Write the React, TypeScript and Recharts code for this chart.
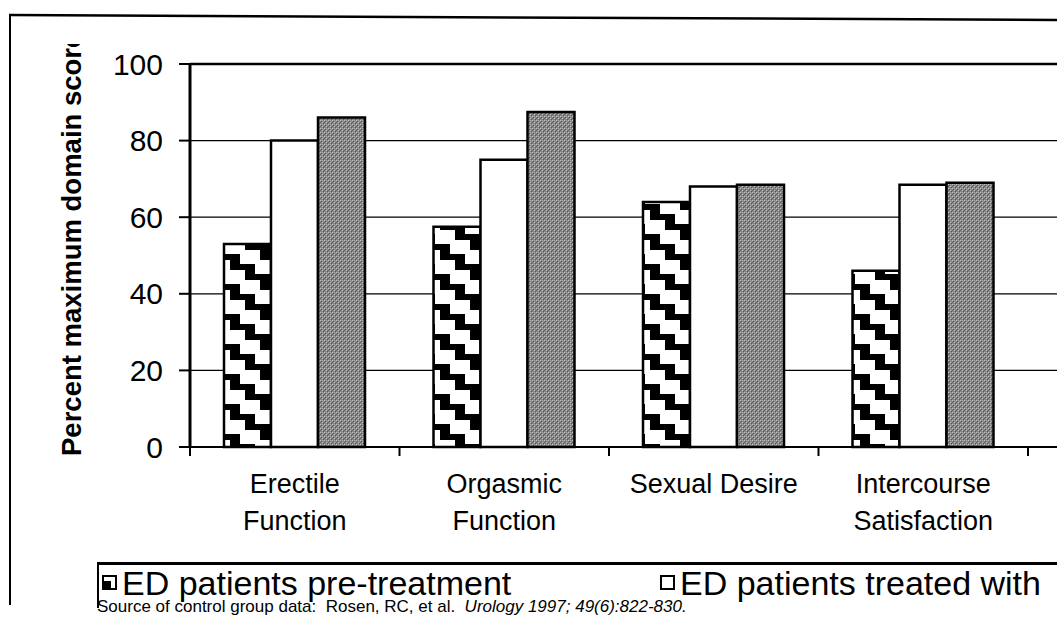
import React from "react";
import {
  BarChart,
  Bar,
  XAxis,
  YAxis,
  CartesianGrid,
  ReferenceLine,
  Legend,
} from "recharts";

const categories = [
  "Erectile\nFunction",
  "Orgasmic\nFunction",
  "Sexual Desire",
  "Intercourse\nSatisfaction",
];
const preTreatment = [53, 57.5, 64, 46];
const treated = [80, 75, 68, 68.5];
const control = [86, 87.5, 68.5, 69];
const yTicks = [0, 20, 40, 60, 80, 100];
const seriesNames = [
  "ED patients pre-treatment",
  "ED patients treated with",
  "Control group",
];
const yLabel = "Percent maximum domain score";

const FONT = "'Liberation Sans', Arial, sans-serif";

// layout: plot starts at x=190, the 4 visible categories end at x=1028,
// the plot itself keeps going past the right edge of the (cropped) slide
const PLOT_LEFT = 190;
const BAND_RIGHT = 1028;
const PLOT_RIGHT = 1240;
const CHART_W = 1300;
const HALF_BAND = (BAND_RIGHT - PLOT_LEFT) / categories.length / 2;

const data = categories.map((name, i) => ({
  name,
  pre: preTreatment[i],
  treated: treated[i],
  control: control[i],
}));

const CategoryTick = (props: any) => {
  const { x, y, payload, index } = props;
  const lines = String(payload.value).split("\n");
  return (
    <g>
      <line x1={x - HALF_BAND} x2={x - HALF_BAND} y1={y} y2={y + 9} stroke="#000" strokeWidth={2} />
      {index === categories.length - 1 && (
        <line x1={x + HALF_BAND} x2={x + HALF_BAND} y1={y} y2={y + 9} stroke="#000" strokeWidth={2} />
      )}
      <text x={x} y={y} textAnchor="middle" fontSize={27} fontFamily={FONT} fill="#000">
        {lines.map((l, i) => (
          <tspan key={i} x={x} dy={i === 0 ? 46 : 37}>
            {l}
          </tspan>
        ))}
      </text>
    </g>
  );
};

// the label is longer than the axis on the slide, so its top is cut off
const YLabel = () => (
  <g clipPath="url(#ylabel-clip)">
    <defs>
      <clipPath id="ylabel-clip">
        <rect x={0} y={44} width={120} height={440} />
      </clipPath>
    </defs>
    <text
      transform="translate(81, 456) rotate(-90)"
      textAnchor="start"
      fontSize={27.5}
      fontWeight="bold"
      fontFamily={FONT}
      fill="#000"
    >
      {yLabel}
    </text>
  </g>
);

const LegendBox = (props: any) => {
  const payload = [...(props.payload || [])].sort(
    (a: any, b: any) => seriesNames.indexOf(a.value) - seriesNames.indexOf(b.value)
  );
  return (
    <svg width={1200} height={62} style={{ display: "block", overflow: "visible" }}>
      <line x1={0} x2={1200} y1={1.5} y2={1.5} stroke="#000" strokeWidth={3} />
      <line x1={1} x2={1} y1={0} y2={46} stroke="#000" strokeWidth={2} />
      {payload.map((entry: any, i: number) => {
        const ox = 6 + i * 558;
        return (
          <g key={i}>
            <rect x={ox} y={14} width={13} height={13} fill="#fff" stroke="#000" strokeWidth={2} />
            {i === 0 && <rect x={ox} y={19} width={8} height={8} fill="#000" />}
            <text x={ox + 19} y={33} fontSize={34} fontFamily={FONT} fill="#000">
              {entry.value}
            </text>
          </g>
        );
      })}
      <text x={0} y={50} fontSize={17} fontFamily={FONT} fill="#000">
        Source of control group data:{"\u00a0\u00a0"}Rosen, RC, et al.{"\u00a0\u00a0"}
        <tspan fontStyle="italic">Urology 1997; 49(6):822-830.</tspan>
      </text>
    </svg>
  );
};

export default function App() {
  return (
    <div
      style={{
        position: "fixed",
        left: 0,
        top: 0,
        width: 1057,
        height: 629,
        overflow: "hidden",
        background: "#fff",
      }}
    >
      <BarChart
        width={CHART_W}
        height={629}
        data={data}
        margin={{ top: 64, right: CHART_W - PLOT_RIGHT, bottom: 82, left: 0 }}
        barCategoryGap={34}
        barGap={0}
      >
        <defs>
          <pattern id="stairs" width={45} height={30} patternUnits="userSpaceOnUse">
            <rect width={45} height={30} fill="#000" />
            <rect x={0} y={0} width={20} height={14} fill="#fff" />
            <rect x={15} y={10} width={20} height={14} fill="#fff" />
            <rect x={30} y={20} width={15} height={10} fill="#fff" />
            <rect x={30} y={0} width={15} height={4} fill="#fff" />
            <rect x={0} y={20} width={5} height={10} fill="#fff" />
          </pattern>
          <pattern id="stipple" width={4} height={4} patternUnits="userSpaceOnUse">
            <rect width={4} height={4} fill="#878787" />
            <rect x={0} y={0} width={1} height={1} fill="#c4c4c4" />
            <rect x={2} y={2} width={1} height={1} fill="#c4c4c4" />
            <rect x={1} y={1} width={1} height={1} fill="#555" />
            <rect x={3} y={3} width={1} height={1} fill="#555" />
            <rect x={2} y={0} width={1} height={1} fill="#a8a8a8" />
            <rect x={0} y={2} width={1} height={1} fill="#666" />
          </pattern>
        </defs>
        <CartesianGrid vertical={false} stroke="#000" strokeWidth={1.2} />
        <ReferenceLine y={100} stroke="#000" strokeWidth={2.5} />
        <XAxis
          dataKey="name"
          type="category"
          height={100}
          padding={{ left: 0, right: PLOT_RIGHT - BAND_RIGHT }}
          axisLine={{ stroke: "#000", strokeWidth: 2 }}
          tickLine={false}
          tickSize={0}
          tickMargin={0}
          interval={0}
          tick={<CategoryTick />}
        />
        <YAxis
          width={PLOT_LEFT}
          domain={[0, 100]}
          ticks={yTicks}
          interval={0}
          axisLine={{ stroke: "#000", strokeWidth: 3 }}
          tickLine={{ stroke: "#000", strokeWidth: 2 }}
          tickSize={11}
          tickMargin={16}
          tick={{ fontSize: 30, fontFamily: FONT, fill: "#000" }}
          label={{ content: () => <YLabel /> }}
        />
        <Legend
          layout="horizontal"
          verticalAlign="middle"
          align="center"
          itemSorter={null as any}
          wrapperStyle={{ left: 97, top: 562, width: 1200, height: 62 }}
          content={<LegendBox />}
        />
        <Bar
          dataKey="pre"
          name={seriesNames[0]}
          fill="url(#stairs)"
          stroke="#000"
          strokeWidth={2.5}
          isAnimationActive={false}
        />
        <Bar
          dataKey="treated"
          name={seriesNames[1]}
          fill="#fff"
          stroke="#000"
          strokeWidth={2.5}
          isAnimationActive={false}
        />
        <Bar
          dataKey="control"
          name={seriesNames[2]}
          fill="url(#stipple)"
          stroke="#000"
          strokeWidth={2.5}
          isAnimationActive={false}
        />
      </BarChart>
      <svg
        width={1057}
        height={629}
        style={{ position: "absolute", left: 0, top: 0, pointerEvents: "none" }}
      >
        <line x1={9} y1={15} x2={1057} y2={20} stroke="#000" strokeWidth={2.5} />
        <line x1={10} y1={14} x2={10} y2={605} stroke="#000" strokeWidth={2} />
      </svg>
    </div>
  );
}
